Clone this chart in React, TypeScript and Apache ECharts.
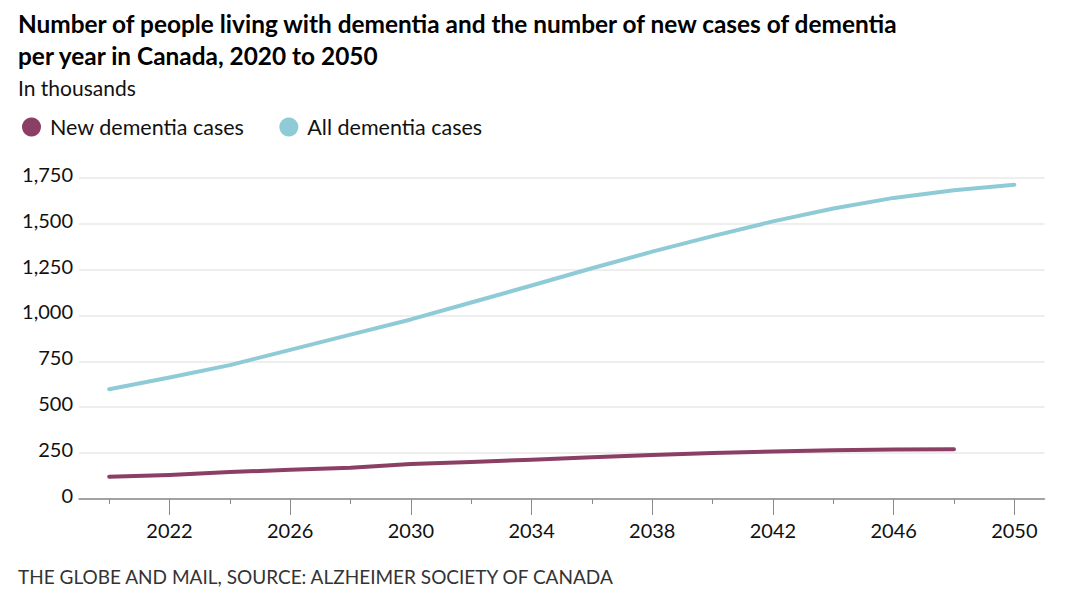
import React, { useEffect, useRef } from "react";
import * as echarts from "echarts";

// Years on the x axis (every two years)
const years = [2020, 2022, 2024, 2026, 2028, 2030, 2032, 2034, 2036, 2038, 2040, 2042, 2044, 2046, 2048, 2050];

// New dementia cases per year, in thousands (no 2050 value)
const newCases = [121, 131, 147, 159, 170, 191, 202, 214, 227, 239, 250, 259, 265, 270, 271, null];

// People living with dementia, in thousands
const allCases = [598, 662, 729, 812, 895, 978, 1070, 1163, 1257, 1347, 1432, 1512, 1582, 1640, 1682, 1712];

// Axis tick values
const yTicks = [0, 250, 500, 750, 1000, 1250, 1500, 1750];
const xLabelYears = [2022, 2026, 2030, 2034, 2038, 2042, 2046, 2050];
const xMinorYears = [2020, 2022, 2024, 2026, 2028, 2030, 2032, 2034, 2036, 2038, 2040, 2042, 2044, 2046, 2048, 2050];

const seriesNames = ["New dementia cases", "All dementia cases"];
const colors = ["#8B3F64", "#8ECBD6"];

const FONT = "Lato, 'Open Sans', sans-serif";

export default function App() {
  const ref = useRef<HTMLDivElement>(null);

  useEffect(() => {
    if (!ref.current) return;
    const chart = echarts.init(ref.current, undefined, { renderer: "svg" });

    const toPairs = (vals: (number | null)[]) =>
      years.map((y, i) => [y, vals[i]]).filter((p) => p[1] !== null);

    chart.setOption({
      animation: false,
      backgroundColor: "#ffffff",
      textStyle: { fontFamily: FONT },
      grid: { left: 79, right: 35.5, top: 177.7, bottom: 107, containLabel: false },
      legend: {
        left: 17,
        top: 111,
        icon: "circle",
        itemWidth: 19,
        itemHeight: 19,
        itemGap: 35,
        textStyle: { fontSize: 21.5, color: "#111", fontFamily: FONT, padding: [0, 0, 0, 4] },
        data: seriesNames,
      },
      graphic: [
        {
          type: "text",
          left: 18,
          top: 7,
          style: {
            text: "Number of people living with dementia and the number of new cases of dementia\nper year in Canada, 2020 to 2050",
            font: `bold 24.4px ${FONT}`,
            lineHeight: 32,
            fill: "#000",
          },
        },
        {
          type: "text",
          left: 18,
          top: 77,
          style: { text: "In thousands", font: `21px ${FONT}`, fill: "#111" },
        },
        {
          type: "text",
          left: 18,
          top: 567,
          style: {
            text: "THE GLOBE AND MAIL, SOURCE: ALZHEIMER SOCIETY OF CANADA",
            font: `19px ${FONT}`,
            fill: "#333",
          },
        },
      ],
      xAxis: [
        {
          type: "value",
          min: 2019,
          max: 2051,
          position: "bottom",
          axisLine: { show: true, lineStyle: { color: "#8a8a8a", width: 1.5 } },
          axisTick: { show: true, customValues: xMinorYears, length: 5, lineStyle: { color: "#8a8a8a", width: 1 } },
          axisLabel: {
            customValues: xLabelYears,
            formatter: (v: number) => String(v),
            fontSize: 20,
            color: "#111",
            margin: 21,
            fontFamily: FONT,
          },
          splitLine: { show: false },
        },
        {
          type: "value",
          min: 2019,
          max: 2051,
          position: "bottom",
          axisLine: { show: false },
          axisTick: { show: true, customValues: xLabelYears, length: 16, lineStyle: { color: "#8a8a8a", width: 1 } },
          axisLabel: { show: false },
          splitLine: { show: false },
        },
      ],
      yAxis: {
        type: "value",
        min: yTicks[0],
        max: yTicks[yTicks.length - 1],
        interval: 250,
        axisLine: { show: false },
        axisTick: { show: false },
        axisLabel: {
          fontSize: 20,
          color: "#111",
          margin: 6,
          verticalAlign: "bottom",
          lineHeight: 8,
          fontFamily: FONT,
        },
        splitLine: { lineStyle: { color: "#e8e8e8", width: 1.5 } },
      },
      series: [
        {
          name: seriesNames[0],
          type: "line",
          xAxisIndex: 0,
          data: toPairs(newCases),
          showSymbol: false,
          symbol: "circle",
          color: colors[0],
          lineStyle: { width: 4, color: colors[0], cap: "round", join: "round" },
        },
        {
          name: seriesNames[1],
          type: "line",
          xAxisIndex: 0,
          data: toPairs(allCases),
          showSymbol: false,
          symbol: "circle",
          color: colors[1],
          lineStyle: { width: 4, color: colors[1], cap: "round", join: "round" },
        },
      ],
    });

    return () => chart.dispose();
  }, []);

  return (
    <div
      ref={ref}
      style={{ position: "fixed", left: 0, top: 0, width: 1080, height: 606, background: "#fff" }}
    />
  );
}
